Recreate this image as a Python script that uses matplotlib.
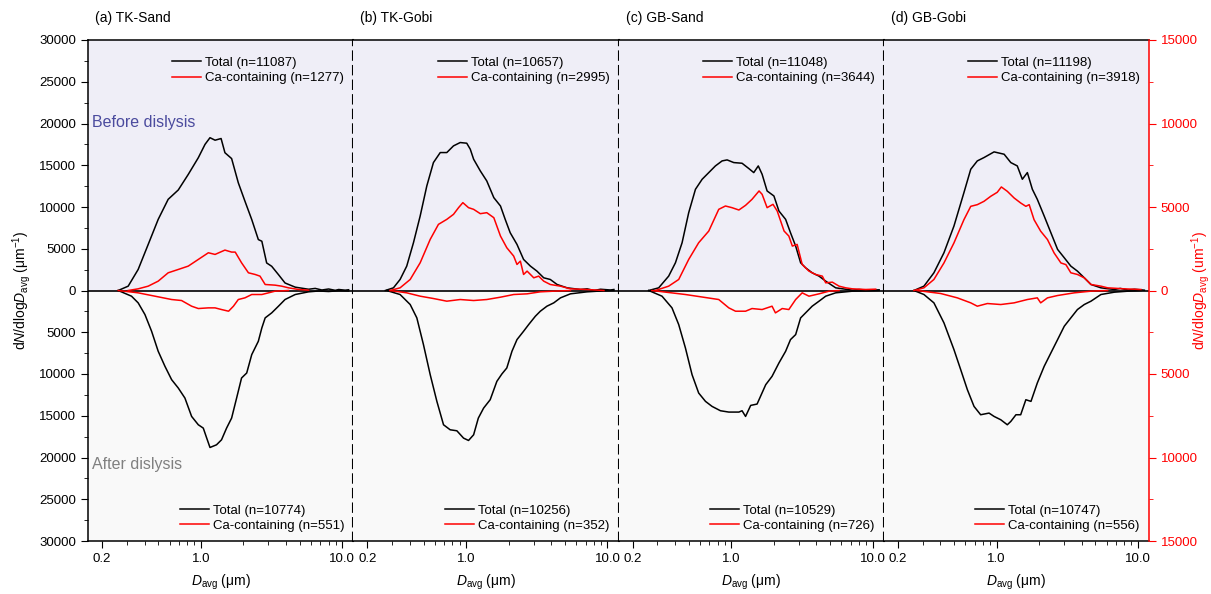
import numpy as np
import matplotlib
matplotlib.use('Agg')
import matplotlib.pyplot as plt
from matplotlib.ticker import FixedLocator, FuncFormatter, LogLocator, NullFormatter, MultipleLocator

plt.rcParams['font.family'] = ['Liberation Sans', 'DejaVu Sans']
plt.rcParams['mathtext.fontset'] = 'custom'
plt.rcParams['mathtext.rm'] = 'Liberation Sans'
plt.rcParams['mathtext.it'] = 'Liberation Sans:italic'
plt.rcParams['font.size'] = 9.5

# panel names and particle counts
panel_titles = ['(a) TK-Sand', '(b) TK-Gobi', '(c) GB-Sand', '(d) GB-Gobi']
n_total_before = [11087, 10657, 11048, 11198]
n_ca_before = [1277, 2995, 3644, 3918]
n_total_after = [10774, 10256, 10529, 10747]
n_ca_after = [551, 352, 726, 556]

# (D_avg um, dN/dlogD)
# total -> left axis, Ca-containing -> right axis
a_total_before = [(0.26, 0), (0.306, 520), (0.36, 2520), (0.424, 5520), (0.499, 8520), (0.587, 10920),
                  (0.692, 12040), (0.814, 13900), (0.959, 15900), (1.07, 17500), (1.16, 18300),
                  (1.26, 18000), (1.39, 18200), (1.48, 16500), (1.65, 15800), (1.84, 12900),
                  (2.05, 10700), (2.29, 8500), (2.55, 6100), (2.70, 5900), (2.92, 3300), (3.17, 2900),
                  (3.54, 1900), (3.94, 900), (4.65, 400), (5.78, 150), (6.44, 250), (7.18, 60),
                  (8.01, 180), (8.93, 20), (9.44, 120), (10.5, 40), (11.1, 90)]
a_ca_before = [(0.306, 0), (0.36, 100), (0.424, 260), (0.499, 560), (0.587, 1060), (0.692, 1260),
               (0.814, 1460), (0.959, 1860), (1.13, 2260), (1.26, 2160), (1.48, 2420), (1.65, 2300),
               (1.75, 2300), (1.94, 1660), (2.17, 1060), (2.42, 960), (2.62, 860), (2.85, 360),
               (3.35, 320), (3.73, 260), (4.17, 160), (4.91, 60), (5.78, 20)]
a_total_after = [(0.26, 0), (0.323, 680), (0.36, 1480), (0.402, 2880), (0.448, 4880), (0.499, 7280),
                 (0.557, 9080), (0.621, 10680), (0.692, 11680), (0.771, 12880), (0.86, 15080),
                 (0.959, 16080), (1.04, 16480), (1.10, 17680), (1.16, 18800), (1.29, 18480),
                 (1.40, 17880), (1.52, 16480), (1.65, 15280), (1.79, 12880), (1.94, 10480),
                 (2.11, 9880), (2.29, 7680), (2.55, 6080), (2.70, 4480), (2.85, 3280), (3.17, 2680),
                 (3.54, 1880), (3.94, 1080), (4.65, 480), (5.78, 160), (6.81, 60), (8.01, 120),
                 (9.44, 30), (11.1, 60)]
a_ca_after = [(0.26, 0), (0.36, 140), (0.473, 340), (0.621, 540), (0.73, 600), (0.86, 940),
              (0.959, 1080), (1.13, 1040), (1.26, 1040), (1.40, 1140), (1.57, 1240), (1.70, 940),
              (1.84, 540), (2.05, 440), (2.29, 240), (2.70, 240), (3.01, 140), (3.35, 40), (4.17, 0)]

b_total_before = [(0.268, 0), (0.306, 320), (0.341, 1320), (0.38, 2920), (0.424, 5720), (0.473, 8920),
                  (0.527, 12520), (0.587, 15320), (0.656, 16520), (0.73, 16520), (0.814, 17320),
                  (0.908, 17720), (1.01, 17640), (1.07, 16920), (1.13, 15720), (1.26, 14320),
                  (1.40, 13120), (1.57, 11120), (1.75, 10120), (1.89, 8520), (2.05, 6920), (2.29, 5520),
                  (2.55, 3720), (2.85, 2920), (3.17, 2320), (3.54, 1520), (3.94, 1320), (4.40, 720),
                  (5.18, 320), (6.44, 120), (7.18, 200), (8.01, 0), (8.93, 150), (10.5, 60), (11.1, 120)]
b_ca_before = [(0.29, 0), (0.341, 160), (0.402, 660), (0.473, 1660), (0.557, 3060), (0.637, 3960),
               (0.73, 4260), (0.814, 4560), (0.884, 4960), (0.948, 5260), (1.04, 4960), (1.13, 4860),
               (1.26, 4600), (1.40, 4660), (1.57, 4360), (1.75, 3260), (1.94, 2560), (2.17, 2060),
               (2.29, 1560), (2.42, 1760), (2.55, 960), (2.70, 1160), (3.01, 760), (3.26, 860),
               (3.54, 560), (3.94, 360), (4.65, 260), (5.47, 100), (7.18, 60), (9.44, 0)]
b_total_after = [(0.274, 0), (0.341, 480), (0.402, 1680), (0.448, 3280), (0.499, 6480), (0.557, 10080),
                 (0.621, 13280), (0.692, 16080), (0.771, 16680), (0.86, 16800), (0.959, 17680),
                 (1.04, 17960), (1.13, 17280), (1.22, 15280), (1.33, 14080), (1.48, 13080),
                 (1.65, 10880), (1.79, 10000), (1.94, 9280), (2.11, 7280), (2.29, 5880), (2.55, 4880),
                 (2.77, 4080), (3.09, 3080), (3.35, 2480), (3.73, 1880), (4.17, 1480), (4.65, 880),
                 (5.47, 400), (7.18, 160), (8.93, 60), (11.1, 0)]
b_ca_after = [(0.29, 0), (0.38, 140), (0.473, 340), (0.587, 480), (0.73, 640), (0.908, 540),
              (1.13, 600), (1.40, 540), (1.75, 400), (2.17, 240), (2.70, 200), (3.35, 80),
              (4.17, 40), (5.47, 0)]

c_total_before = [(0.26, 0), (0.306, 320), (0.36, 1720), (0.402, 3320), (0.448, 5720), (0.499, 9320),
                  (0.557, 12120), (0.621, 13320), (0.692, 14120), (0.771, 14920), (0.86, 15520),
                  (0.933, 15640), (1.04, 15320), (1.19, 15240), (1.33, 14600), (1.44, 14120),
                  (1.55, 14920), (1.65, 13920), (1.79, 11920), (2.00, 11320), (2.17, 9520),
                  (2.42, 8520), (2.62, 6920), (2.85, 5320), (3.09, 3320), (3.35, 2720), (3.73, 2120),
                  (4.17, 1720), (4.65, 1120), (5.47, 320), (6.44, 150), (7.18, 40), (8.01, 120),
                  (9.44, 30), (11.1, 80)]
c_ca_before = [(0.29, 0), (0.36, 260), (0.424, 660), (0.499, 1860), (0.587, 2860), (0.692, 3560),
               (0.814, 4860), (0.908, 5060), (1.01, 4960), (1.13, 4820), (1.26, 5100), (1.40, 5460),
               (1.57, 5960), (1.65, 5760), (1.79, 4960), (1.97, 5160), (2.11, 4760), (2.36, 3560),
               (2.55, 3260), (2.70, 2660), (2.92, 2760), (3.17, 1560), (3.54, 1160), (3.94, 960),
               (4.40, 860), (4.65, 460), (5.18, 500), (5.78, 260), (6.44, 160), (7.18, 100),
               (8.93, 60), (10.5, 80)]
c_total_after = [(0.26, 0), (0.323, 680), (0.38, 2080), (0.424, 4080), (0.473, 6880), (0.527, 10080),
                 (0.587, 12280), (0.656, 13280), (0.73, 13880), (0.837, 14400), (0.959, 14560),
                 (1.13, 14560), (1.19, 14400), (1.26, 15080), (1.37, 13760), (1.52, 13600),
                 (1.75, 11280), (1.94, 10280), (2.17, 8680), (2.42, 7280), (2.62, 5880), (2.85, 5280),
                 (3.09, 3280), (3.35, 2680), (3.73, 1880), (4.17, 1280), (4.65, 680), (5.47, 280),
                 (7.18, 80), (9.44, 40), (11.1, 0)]
c_ca_after = [(0.274, 0), (0.473, 240), (0.814, 540), (0.959, 1040), (1.07, 1240), (1.26, 1240),
              (1.40, 1080), (1.65, 1140), (1.94, 940), (2.05, 1340), (2.29, 1080), (2.55, 1140),
              (2.85, 540), (3.17, 140), (3.54, 340), (4.17, 200), (4.91, 40), (5.78, 0)]

d_total_before = [(0.26, 0), (0.306, 520), (0.36, 2120), (0.424, 4520), (0.499, 7720), (0.587, 11720),
                  (0.656, 14520), (0.73, 15520), (0.814, 15920), (0.959, 16600), (1.13, 16320),
                  (1.26, 15320), (1.40, 14920), (1.52, 13320), (1.65, 14120), (1.79, 12120),
                  (1.94, 10920), (2.17, 8920), (2.42, 6920), (2.70, 4920), (3.01, 3920), (3.35, 2920),
                  (3.73, 2320), (4.17, 1520), (4.65, 720), (5.47, 320), (6.81, 120), (7.5, 250),
                  (8.5, 60), (9.44, 150), (11.1, 40)]
d_ca_before = [(0.26, 0), (0.306, 160), (0.36, 660), (0.424, 1650), (0.499, 2850), (0.587, 4240),
               (0.656, 5040), (0.73, 5140), (0.814, 5340), (0.908, 5640), (1.01, 5880), (1.08, 6200),
               (1.19, 5940), (1.33, 5540), (1.48, 5240), (1.61, 5040), (1.70, 5140), (1.84, 4240),
               (2.05, 3550), (2.29, 3050), (2.55, 2250), (2.85, 1650), (3.09, 1550), (3.35, 1060),
               (3.73, 960), (4.17, 760), (4.65, 360), (5.47, 260), (6.10, 160), (8.01, 100),
               (10.5, 60)]
d_total_after = [(0.26, 0), (0.306, 480), (0.36, 1480), (0.424, 3880), (0.499, 7080), (0.557, 9480),
                 (0.621, 11880), (0.692, 13880), (0.771, 14880), (0.884, 14680), (0.959, 15080),
                 (1.07, 15480), (1.19, 16080), (1.26, 15680), (1.37, 14880), (1.48, 14880),
                 (1.61, 13080), (1.75, 13280), (1.94, 11080), (2.17, 9080), (2.42, 7480), (2.70, 5880),
                 (3.01, 4280), (3.35, 3280), (3.73, 2280), (4.17, 1680), (4.65, 1280), (5.47, 480),
                 (6.81, 200), (8.5, 80), (10.5, 0)]
d_ca_after = [(0.274, 0), (0.402, 180), (0.527, 440), (0.656, 740), (0.73, 940), (0.86, 780),
              (1.07, 840), (1.33, 740), (1.65, 540), (1.94, 440), (2.05, 740), (2.29, 440),
              (2.70, 300), (3.54, 140), (4.65, 40), (6.10, 0)]

total_before = [a_total_before, b_total_before, c_total_before, d_total_before]
ca_before = [a_ca_before, b_ca_before, c_ca_before, d_ca_before]
total_after = [a_total_after, b_total_after, c_total_after, d_total_after]
ca_after = [a_ca_after, b_ca_after, c_ca_after, d_ca_after]

fig = plt.figure(figsize=(12.11, 5.94), dpi=100)

left0 = 88 / 1211
pw = (1149 - 88) / 4 / 1211
bottom = 1 - 541 / 594
height = (541 - 40) / 594

abs_fmt = FuncFormatter(lambda v, p: f'{abs(v):.0f}')
dash = (0, (4, 3))

for i in range(4):
    ax = fig.add_axes([left0 + i * pw, bottom, pw, height])
    ax2 = ax.twinx()

    ax.axhspan(0, 30000, color='#EFEEF7', lw=0, zorder=0)
    ax.axhspan(-30000, 0, color='#F9F9F9', lw=0, zorder=0)
    ax.axhline(0, color='black', lw=1.2, zorder=1)

    x, y = zip(*total_before[i])
    l1, = ax.plot(x, y, color='black', lw=1.1, zorder=3)
    x, y = zip(*total_after[i])
    l3, = ax.plot(x, -np.array(y), color='black', lw=1.1, zorder=3)
    x, y = zip(*ca_before[i])
    l2, = ax2.plot(x, y, color='red', lw=1.1)
    x, y = zip(*ca_after[i])
    l4, = ax2.plot(x, -np.array(y), color='red', lw=1.1)

    ax.set_xscale('log')
    ax.set_xlim(0.159, 11.97)
    ax.set_ylim(-30000, 30000)
    ax2.set_ylim(-15000, 15000)
    ax.xaxis.set_major_locator(FixedLocator([0.2, 1.0, 10.0]))
    ax.xaxis.set_major_formatter(FuncFormatter(lambda v, p: f'{v:.1f}'))
    ax.xaxis.set_minor_locator(LogLocator(base=10, subs=np.arange(2, 10) * 1.0))
    ax.xaxis.set_minor_formatter(NullFormatter())
    ax.tick_params(axis='x', which='major', direction='out', length=5, labelsize=9.5)
    ax.tick_params(axis='x', which='minor', direction='out', length=3)
    ax.set_xlabel('$D_{\\mathrm{avg}}$ (μm)', fontsize=10, labelpad=6)

    for s in ax2.spines.values():
        s.set_visible(False)
    ax.spines['top'].set_linewidth(1.1)
    ax.spines['bottom'].set_linewidth(1.1)

    if i == 0:
        ax.yaxis.set_major_locator(MultipleLocator(5000))
        ax.yaxis.set_minor_locator(MultipleLocator(2500))
        ax.yaxis.set_major_formatter(abs_fmt)
        ax.tick_params(axis='y', which='major', direction='out', length=5, labelsize=9.5)
        ax.tick_params(axis='y', which='minor', direction='out', length=3)
        ax.spines['left'].set_linewidth(1.1)
    else:
        ax.tick_params(axis='y', which='both', left=False, labelleft=False)
        ax.spines['left'].set_visible(False)

    if i < 3:
        ax.spines['right'].set_linestyle(dash)
        ax.spines['right'].set_linewidth(1.5)
        ax2.yaxis.set_visible(False)
    else:
        ax.spines['right'].set_visible(False)
        ax2.spines['right'].set_visible(True)
        ax2.spines['right'].set_color('red')
        ax2.spines['right'].set_linewidth(1.1)
        ax2.yaxis.set_major_locator(MultipleLocator(5000))
        ax2.yaxis.set_minor_locator(MultipleLocator(2500))
        ax2.yaxis.set_major_formatter(abs_fmt)
        ax2.tick_params(axis='y', which='major', direction='out', length=5, colors='red', labelsize=9.5)
        ax2.tick_params(axis='y', which='minor', direction='out', length=3, colors='red')

    leg1 = ax2.legend([l1, l2], [f'Total (n={n_total_before[i]})', f'Ca-containing (n={n_ca_before[i]})'],
                      loc='upper right', bbox_to_anchor=(1.0, 0.985), frameon=False, fontsize=9.5,
                      handlelength=2.2, handletextpad=0.3, labelspacing=0.22, borderaxespad=0.3)
    ax2.add_artist(leg1)
    ax2.legend([l3, l4], [f'Total (n={n_total_after[i]})', f'Ca-containing (n={n_ca_after[i]})'],
               loc='lower right', frameon=False, fontsize=9.5, handlelength=2.2,
               handletextpad=0.3, labelspacing=0.22, borderaxespad=0.3)

    fig.text(left0 + i * pw + 7 / 1211, 1 - 18 / 594, panel_titles[i], fontsize=10, va='center')

    if i == 0:
        ax.text(0.015, 0.836, 'Before dislysis', transform=ax.transAxes, color='#4B4B9E',
                fontsize=11.5, va='center')
        ax.text(0.015, 0.152, 'After dislysis', transform=ax.transAxes, color='#808080',
                fontsize=11.5, va='center')

fig.text(0.018, 1 - 290.5 / 594, 'd$N$/dlog$D_{\\mathrm{avg}}$ (μm$^{-1}$)', rotation=90,
         ha='center', va='center', fontsize=10)
fig.text(0.991, 1 - 290.5 / 594, 'd$N$/dlog$D_{\\mathrm{avg}}$ (um$^{-1}$)', rotation=90,
         ha='center', va='center', fontsize=10, color='red')

fig.savefig('out.png', dpi=100)
